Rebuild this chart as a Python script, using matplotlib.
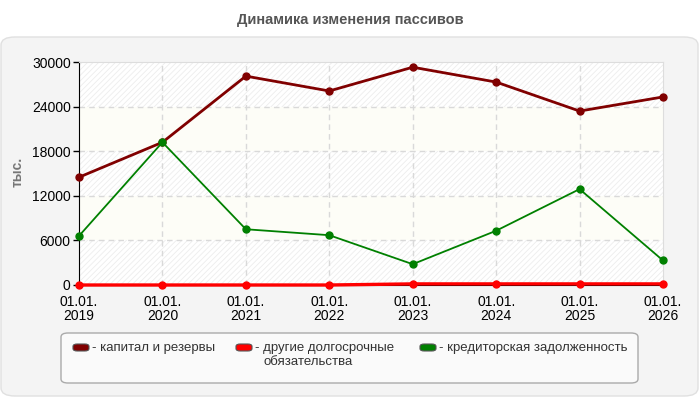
import matplotlib
matplotlib.use("Agg")
from matplotlib import pyplot as plt
from matplotlib.patches import FancyBboxPatch
import numpy as np

plt.rcParams['font.family'] = ['Liberation Sans', 'DejaVu Sans']
plt.rcParams['hatch.linewidth'] = 0.6

title = 'Динамика изменения пассивов'
ylabel = 'тыс.'
years = ['2019', '2020', '2021', '2022', '2023', '2024', '2025', '2026']
xlabels = ['01.01.\n' + y for y in years]

capital = [14500, 19200, 28100, 26100, 29300, 27300, 23400, 25300]
other_long = [0, 0, 0, 0, 150, 150, 150, 150]
creditors = [6600, 19200, 7500, 6700, 2800, 7300, 12900, 3300]

names = ['капитал и резервы', 'другие долгосрочные\nобязательства', 'кредиторская задолженность']
colors = ['#800000', '#ff0000', '#008000']
widths = [2.0, 2.4, 1.3]
yticks = [0, 6000, 12000, 18000, 24000, 30000]

fig = plt.figure(figsize=(7, 4), dpi=100)
fig.patch.set_facecolor('white')

# outer panel
panel = FancyBboxPatch((1 / 700, 4 / 400), 697 / 700, 359 / 400,
                       boxstyle='round,pad=0,rounding_size=0.02',
                       transform=fig.transFigure, facecolor='#f4f4f4',
                       edgecolor='#e0e0e0', linewidth=1, zorder=-2)
fig.patches.append(panel)

fig.text(0.5, 1 - 20 / 400, title, ha='center', va='center',
         fontsize=10.5, fontweight='bold', color='#555555')

ax = fig.add_axes([79 / 700, 1 - 285 / 400, 584 / 700, 223 / 400])
ax.set_zorder(3)
ax.set_facecolor('white')
x = np.arange(len(years))

# alternating bands
for i in range(len(yticks) - 1):
    if i % 2 == 0:
        ax.axhspan(yticks[i], yticks[i + 1], facecolor='white', edgecolor='#ededed',
                   hatch='//////', linewidth=0, zorder=0)
    else:
        ax.axhspan(yticks[i], yticks[i + 1], facecolor='#fdfdf7', linewidth=0, zorder=0)

for yt in yticks[1:-1]:
    ax.axhline(yt, color='#d9d9d9', linestyle=(0, (4, 3)), linewidth=1, zorder=1)
for xi in x[1:-1]:
    ax.axvline(xi, color='#d9d9d9', linestyle=(0, (4, 3)), linewidth=1, zorder=1)

for vals, c, w in zip([capital, other_long, creditors], colors, widths):
    ax.plot(x, vals, color=c, linewidth=w, marker='o', markersize=5, zorder=3,
            clip_on=False)

ax.set_xlim(0, len(years) - 1)
ax.set_ylim(0, 30000)
ax.set_yticks(yticks)
ax.set_yticklabels([str(v) for v in yticks], fontsize=10)
ax.set_xticks(x)
ax.set_xticklabels(xlabels, fontsize=10, linespacing=1.0)
ax.tick_params(axis='x', length=0, pad=7)
ax.tick_params(axis='y', length=4, width=1, pad=2)

for s in ['top', 'right']:
    ax.spines[s].set_color('#dddddd')
ax.spines['left'].set_color('black')
ax.spines['bottom'].set_color('black')

fig.text(18 / 700, 1 - 172 / 400, ylabel, rotation=90, ha='center', va='center',
         fontsize=10, fontweight='bold', color='#777777')

# legend box
lbox = FancyBboxPatch((61 / 700, 1 - 383 / 400), 577 / 700, 50 / 400,
                      boxstyle='round,pad=0,rounding_size=0.01',
                      transform=fig.transFigure, facecolor='#fafafa',
                      edgecolor='#aaaaaa', linewidth=1, zorder=1)
fig.patches.append(lbox)

swatch_x = [73, 236, 420]
for sx, name, c in zip(swatch_x, names, colors):
    sw = FancyBboxPatch((sx / 700, 1 - 351 / 400), 16 / 700, 7 / 400,
                        boxstyle='round,pad=0,rounding_size=0.006',
                        transform=fig.transFigure, facecolor=c,
                        edgecolor='#555555', linewidth=0.8, zorder=2)
    fig.patches.append(sw)
    lines = name.split('\n')
    fig.text((sx + 19) / 700, 1 - 348 / 400, '- ' + lines[0], ha='left', va='center',
             fontsize=9.5, color='#333333')
    if len(lines) > 1:
        fig.text((sx + 28) / 700, 1 - 362 / 400, lines[1], ha='left', va='center',
                 fontsize=9.5, color='#333333')

fig.savefig('out.png', dpi=100)
